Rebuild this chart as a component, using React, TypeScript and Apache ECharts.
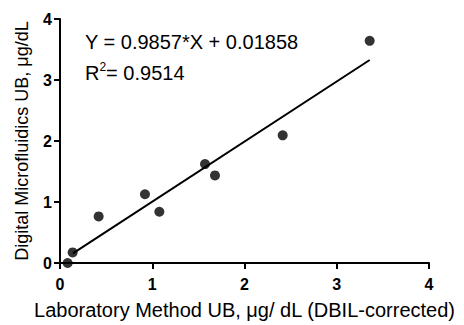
import React, { useEffect, useRef } from "react";
import * as echarts from "echarts";

const labX = [0.083, 0.137, 0.419, 0.921, 1.077, 1.572, 1.68, 2.414, 3.357];
const dmfY = [0.0, 0.174, 0.764, 1.127, 0.84, 1.621, 1.436, 2.093, 3.642];
const slope = 0.9857;
const intercept = 0.01858;
const fitXRange = [0.14, 3.357];
const axisTicks = [0, 1, 2, 3, 4];

export default function App() {
  const ref = useRef<HTMLDivElement>(null);
  useEffect(() => {
    if (!ref.current) return;
    const chart = echarts.init(ref.current, null, { renderer: "svg" });
    const points = labX.map((x, i) => [x, dmfY[i]]);
    const fit = fitXRange.map((x) => [x, slope * x + intercept]);
    const font = "Liberation Sans, Arial, sans-serif";
    const axisCommon = {
      type: "value" as const,
      min: axisTicks[0],
      max: axisTicks[axisTicks.length - 1],
      interval: 1,
      splitLine: { show: false },
      axisLine: { show: true, lineStyle: { color: "#000", width: 2 } },
      axisTick: { show: true, inside: false, length: 6, lineStyle: { color: "#000", width: 2 } },
      nameLocation: "middle" as const,
    };
    chart.setOption({
      animation: false,
      backgroundColor: "#fff",
      grid: { left: 60, right: 35, top: 19, bottom: 60 },
      xAxis: {
        ...axisCommon,
        name: "Laboratory Method UB, μg/ dL (DBIL-corrected)",
        nameGap: 37,
        nameTextStyle: { color: "#000", fontSize: 20, fontFamily: font },
        axisLabel: { color: "#000", fontSize: 16, fontWeight: "bold", fontFamily: font, margin: 13 },
      },
      yAxis: {
        ...axisCommon,
        name: "Digital Microfluidics UB, μg/dL",
        nameGap: 29,
        nameRotate: 90,
        nameTextStyle: { color: "#000", fontSize: 18, fontFamily: font },
        axisLabel: { color: "#000", fontSize: 16, fontWeight: "bold", fontFamily: font, margin: 8 },
      },
      series: [
        {
          type: "line",
          data: fit,
          symbol: "none",
          lineStyle: { color: "#000", width: 2 },
          z: 2,
        },
        {
          type: "scatter",
          data: points,
          symbol: "circle",
          symbolSize: 10,
          itemStyle: { color: "#000" },
          z: 3,
        },
      ],
      graphic: [
        {
          type: "text",
          left: 85,
          top: 32,
          style: {
            text: "Y = 0.9857*X + 0.01858",
            fill: "#000",
            fontSize: 20,
            fontFamily: font,
          },
        },
        {
          type: "text",
          left: 85,
          top: 61,
          style: {
            text: "{b|R}{s|2}{b|= 0.9514}",
            fill: "#000",
            fontFamily: font,
            rich: {
              b: { fontSize: 20, fontFamily: font, fill: "#000", verticalAlign: "bottom", lineHeight: 22 },
              s: { fontSize: 12, fontFamily: font, fill: "#000", verticalAlign: "top", lineHeight: 22, padding: [0, 0, 10, 0] },
            },
          },
        },
      ],
    });
    return () => chart.dispose();
  }, []);
  return <div ref={ref} style={{ width: 464, height: 325, position: "absolute", left: 0, top: 0 }} />;
}
